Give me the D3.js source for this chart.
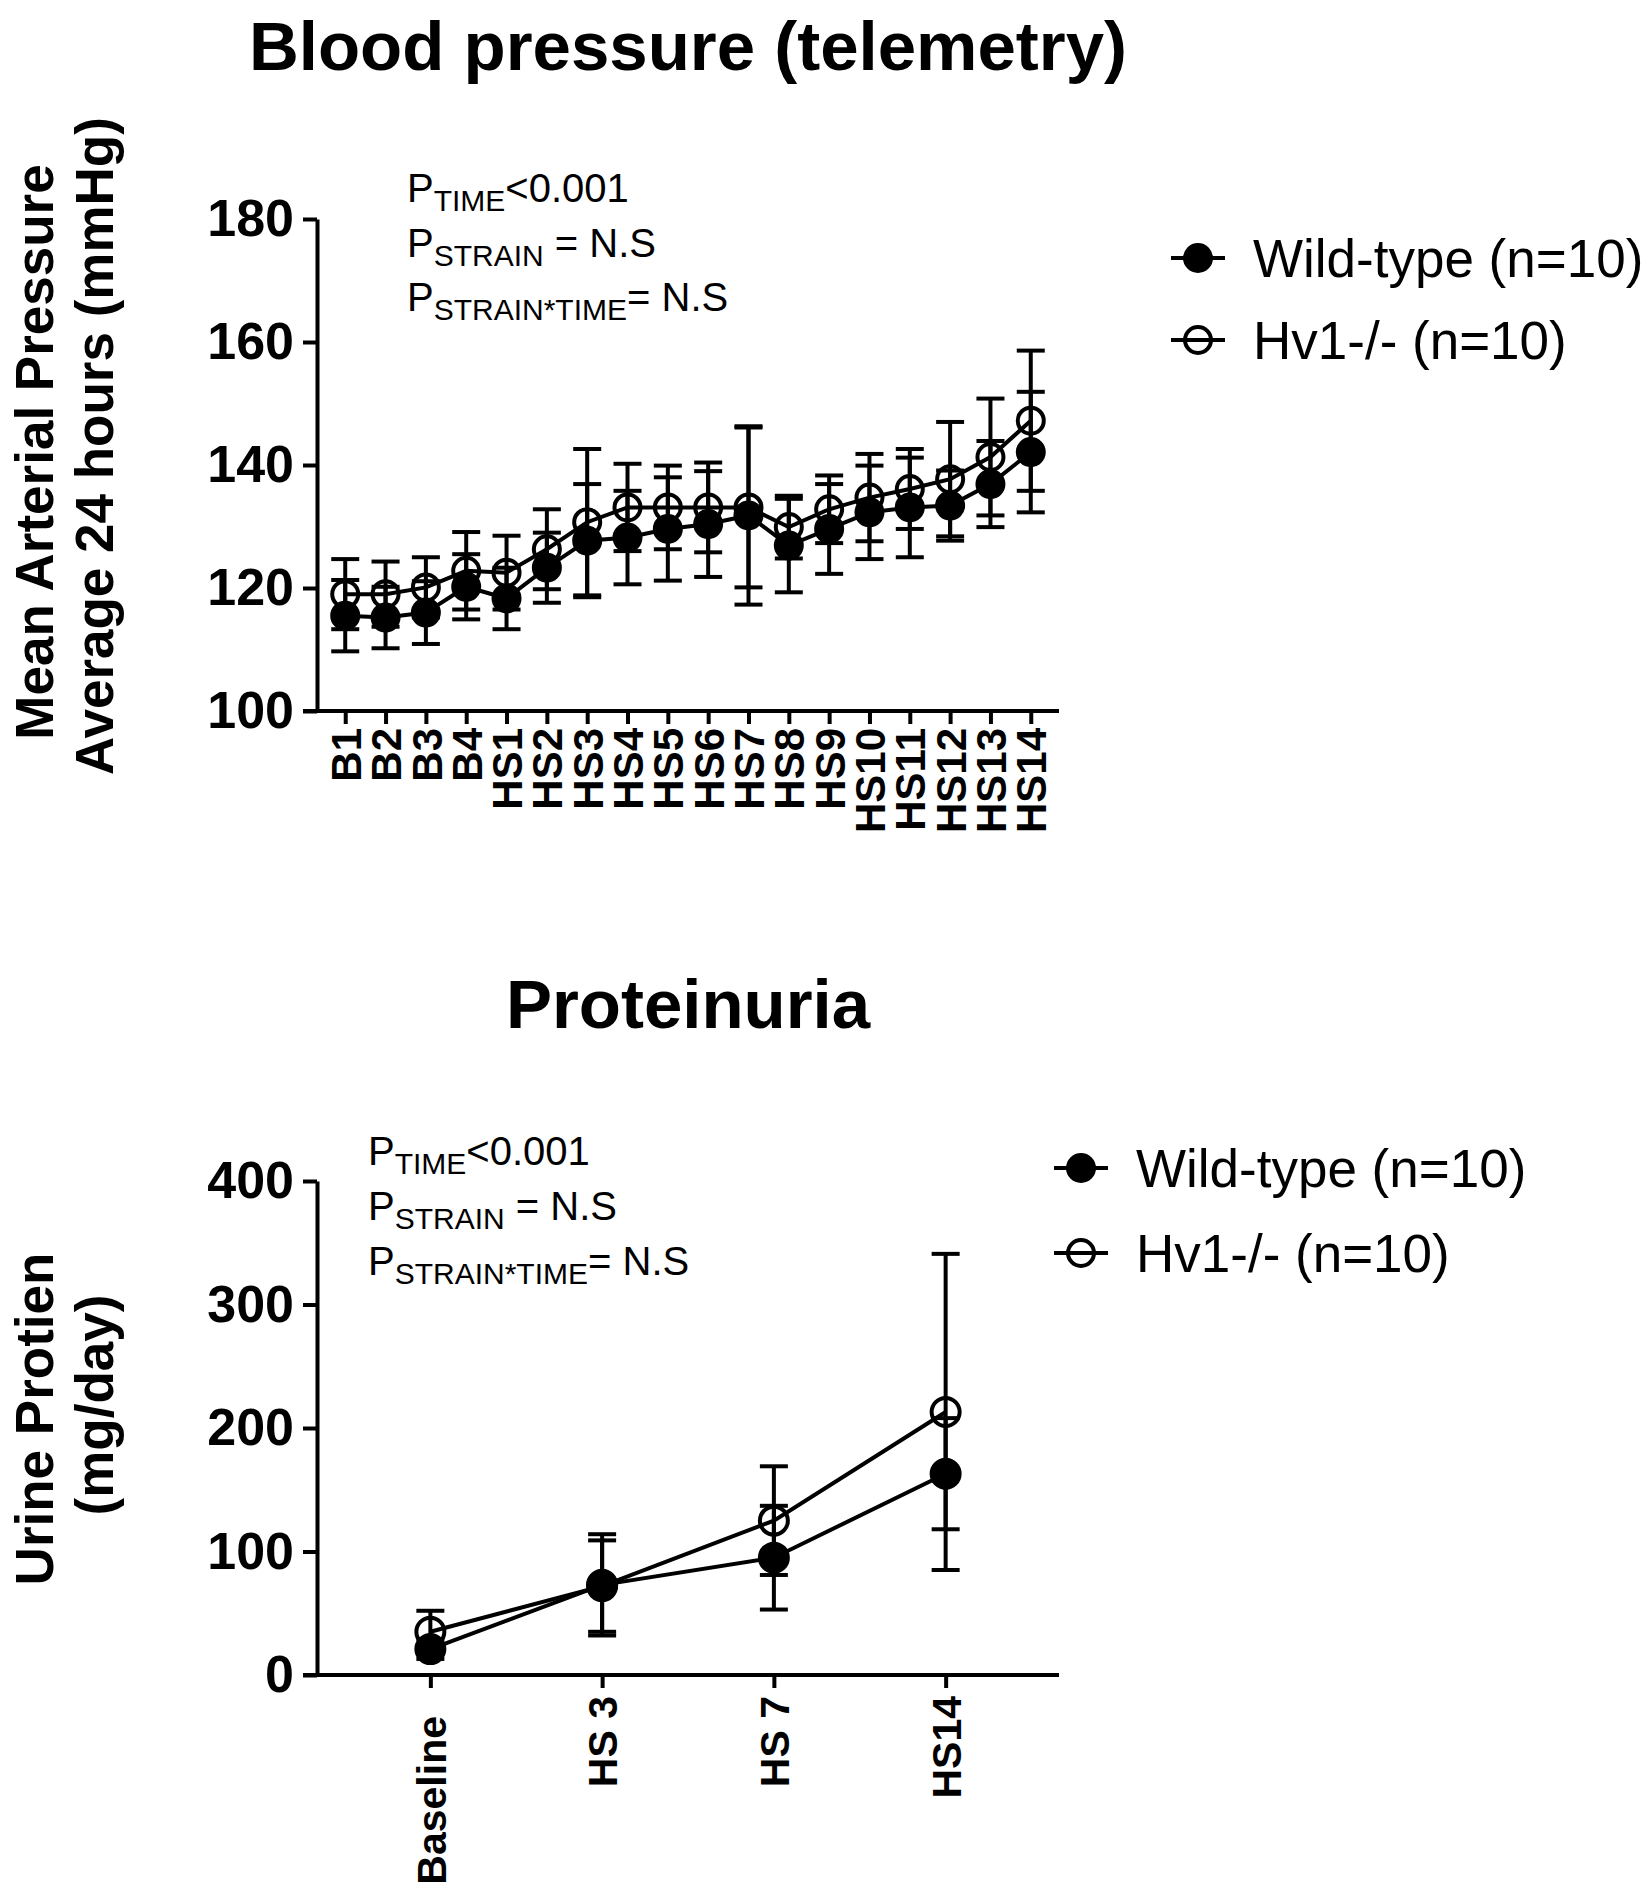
<!DOCTYPE html>
<html>
<head>
<meta charset="utf-8">
<script src="https://cdn.jsdelivr.net/npm/d3@7"></script>
<style>
  body { margin: 0; background: #fff; }
  text { font-family: "Liberation Sans", Arial, sans-serif; fill: #000; }
</style>
</head>
<body>
<svg id="chart"></svg>
<script>
const WIDTH = 1650;
const HEIGHT = 1898;
const STROKE = 4;
const TICK = 14;
const CAP = 14;

// ---------- data: blood pressure ----------
const bpDays = ['B1', 'B2', 'B3', 'B4', 'HS1', 'HS2', 'HS3', 'HS4', 'HS5', 'HS6',
  'HS7', 'HS8', 'HS9', 'HS10', 'HS11', 'HS12', 'HS13', 'HS14'];
const bpWildType = [115.5, 115.2, 116.0, 120.2, 118.3, 123.3, 127.7, 128.2, 129.6, 130.4,
  131.8, 126.9, 129.6, 132.3, 133.1, 133.4, 136.9, 142.1];
const bpWildTypeSd = [5.8, 5.0, 5.1, 5.3, 5.0, 5.7, 9.2, 7.6, 8.4, 8.6,
  14.5, 7.6, 7.3, 7.6, 8.1, 5.7, 7.0, 9.8];
const bpKnockout = [119.0, 119.0, 120.1, 122.8, 122.5, 126.3, 130.7, 133.1, 133.1, 133.1,
  133.1, 129.9, 132.8, 134.7, 136.1, 137.7, 141.3, 147.2];
const bpKnockoutSd = [5.7, 5.3, 4.9, 6.3, 6.0, 6.5, 11.9, 7.1, 6.8, 7.3,
  13.0, 5.1, 5.5, 7.1, 6.5, 9.3, 9.5, 11.4];
const bpTicks = [100, 120, 140, 160, 180];

// ---------- data: proteinuria ----------
const protDays = ['Baseline', 'HS 3', 'HS 7', 'HS14'];
const protWildType = [21, 73, 95, 163];
const protWildTypeSd = [8, 41, 42, 45];
const protKnockout = [35, 72, 125, 213];
const protKnockoutSd = [17, 37, 44, 128];
const protTicks = [0, 100, 200, 300, 400];

const legendLabels = ['Wild-type (n=10)', 'Hv1-/- (n=10)'];
const statLines = [
  ['TIME', '<0.001'],
  ['STRAIN', ' = N.S'],
  ['STRAIN*TIME', '= N.S'],
];

const svg = d3.select('#chart').attr('width', WIDTH).attr('height', HEIGHT);
svg.append('rect').attr('width', WIDTH).attr('height', HEIGHT).attr('fill', '#fff');

const drawPanel = (cfg) => {
  const g = svg.append('g');
  const x = d3.scalePoint().domain(cfg.days).range([317, 1059]).padding(cfg.padding);
  const y = d3.scaleLinear().domain(cfg.yDomain).range(cfg.yRange);

  // title
  g.append('text')
    .attr('x', 688).attr('y', cfg.titleY)
    .attr('text-anchor', 'middle')
    .attr('font-size', 69).attr('font-weight', 'bold')
    .text(cfg.title);

  // y axis title (two lines)
  cfg.yTitle.forEach((line, i) => {
    g.append('text')
      .attr('transform', `translate(${[53, 113][i]},${cfg.yTitleY[i]}) rotate(-90)`)
      .attr('text-anchor', 'middle')
      .attr('font-size', 53).attr('font-weight', 'bold')
      .text(line);
  });

  // y axis
  const gy = g.append('g')
    .attr('transform', `translate(${x.range()[0]},0)`)
    .call(d3.axisLeft(y).tickValues(cfg.ticks).tickSize(TICK).tickSizeOuter(0).tickPadding(9));
  gy.select('.domain').attr('stroke-width', STROKE);
  gy.selectAll('.tick line').attr('stroke-width', STROKE);
  gy.selectAll('.tick text')
    .attr('font-size', 52).attr('font-weight', 'bold')
    .attr('font-family', '"Liberation Sans", Arial, sans-serif');

  // x axis
  const gx = g.append('g')
    .attr('transform', `translate(0,${y.range()[0]})`)
    .call(d3.axisBottom(x).tickSize(13).tickSizeOuter(0));
  gx.select('.domain').remove();
  gx.append('line')
    .attr('x1', x.range()[0] - TICK).attr('x2', x.range()[1])
    .attr('stroke', '#000').attr('stroke-width', STROKE);
  gx.selectAll('.tick line').attr('stroke-width', STROKE);
  gx.selectAll('.tick text')
    .attr('transform', 'rotate(-90)')
    .attr('text-anchor', 'end')
    .attr('x', (d) => -(cfg.labelGap + (cfg.labelShift[d] || 0)))
    .attr('y', 0).attr('dy', '0.36em')
    .attr('font-size', cfg.labelSize).attr('font-weight', 'bold')
    .attr('font-family', '"Liberation Sans", Arial, sans-serif');

  // stats text
  statLines.forEach(([sub, rest], i) => {
    const t = g.append('text')
      .attr('x', cfg.statX).attr('y', cfg.statY[i])
      .attr('font-size', 40);
    t.append('tspan').text('P');
    t.append('tspan').attr('font-size', 30).attr('dy', 9).text(sub);
    t.append('tspan').attr('dy', -9).text(rest);
  });

  const series = [
    { values: cfg.knockout, sd: cfg.knockoutSd, filled: false },
    { values: cfg.wildType, sd: cfg.wildTypeSd, filled: true },
  ];

  // error bars
  series.forEach((s) => {
    const bars = g.append('g').attr('stroke', '#000').attr('stroke-width', STROKE);
    s.values.forEach((v, i) => {
      const cx = x(cfg.days[i]);
      const lo = y(v - s.sd[i]);
      const hi = y(v + s.sd[i]);
      bars.append('line').attr('x1', cx).attr('x2', cx).attr('y1', lo).attr('y2', hi);
      bars.append('line').attr('x1', cx - CAP).attr('x2', cx + CAP).attr('y1', lo).attr('y2', lo);
      bars.append('line').attr('x1', cx - CAP).attr('x2', cx + CAP).attr('y1', hi).attr('y2', hi);
    });
  });

  // lines
  const line = d3.line().x((d, i) => x(cfg.days[i])).y((d) => y(d));
  series.forEach((s) => {
    g.append('path').datum(s.values)
      .attr('d', line)
      .attr('fill', 'none').attr('stroke', '#000').attr('stroke-width', STROKE);
  });

  // markers
  series.forEach((s) => {
    g.append('g').selectAll('circle').data(s.values).join('circle')
      .attr('cx', (d, i) => x(cfg.days[i]))
      .attr('cy', (d) => y(d))
      .attr('r', cfg.radius)
      .attr('fill', s.filled ? '#000' : 'none')
      .attr('stroke', '#000').attr('stroke-width', STROKE);
  });

  // legend
  legendLabels.forEach((label, i) => {
    const ly = cfg.legendY[i];
    const lg = g.append('g').attr('transform', `translate(${cfg.legendX},${ly})`);
    lg.append('line').attr('x1', -27).attr('x2', 27)
      .attr('stroke', '#000').attr('stroke-width', STROKE);
    lg.append('circle').attr('r', 13)
      .attr('fill', i === 0 ? '#000' : 'none')
      .attr('stroke', '#000').attr('stroke-width', STROKE);
    lg.append('text').attr('x', 55).attr('dy', '0.35em')
      .attr('font-size', 53).text(label);
  });
};

drawPanel({
  title: 'Blood pressure (telemetry)',
  titleY: 70,
  yTitle: ['Mean Arterial Pressure', 'Average 24 hours (mmHg)'],
  yTitleY: [452, 446],
  days: bpDays,
  wildType: bpWildType, wildTypeSd: bpWildTypeSd,
  knockout: bpKnockout, knockoutSd: bpKnockoutSd,
  yDomain: [100, 180], yRange: [711, 219], ticks: bpTicks,
  padding: 0.7, radius: 13,
  labelSize: 42, labelGap: 17, labelShift: {},
  statX: 407, statY: [202, 257, 311],
  legendX: 1198, legendY: [258, 340],
});

drawPanel({
  title: 'Proteinuria',
  titleY: 1028,
  yTitle: ['Urine Protien', '(mg/day)'],
  yTitleY: [1419, 1405],
  days: protDays,
  wildType: protWildType, wildTypeSd: protWildTypeSd,
  knockout: protKnockout, knockoutSd: protKnockoutSd,
  yDomain: [0, 400], yRange: [1675, 1181], ticks: protTicks,
  padding: 0.66, radius: 14,
  labelSize: 41, labelGap: 21, labelShift: { Baseline: 20 },
  statX: 368, statY: [1165, 1220, 1275],
  legendX: 1081, legendY: [1168, 1253],
});
</script>
</body>
</html>
